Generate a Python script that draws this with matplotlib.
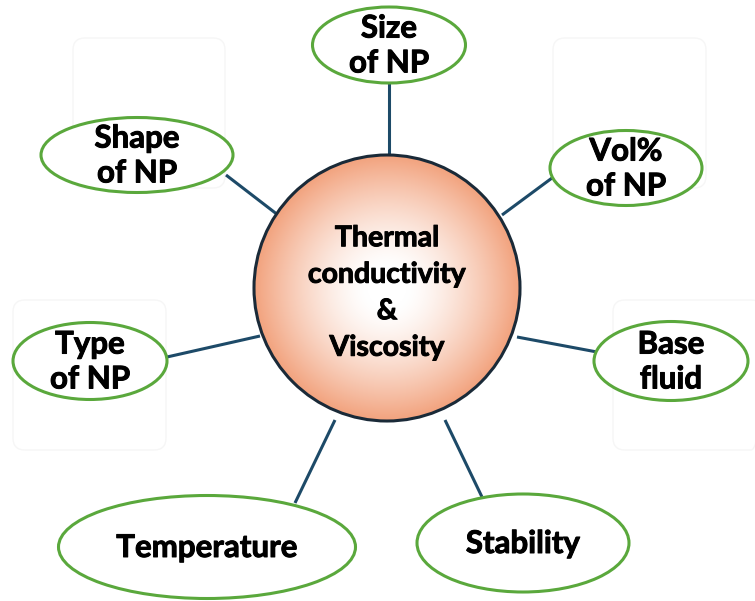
import numpy as np
import matplotlib
matplotlib.use("Agg")
import matplotlib.pyplot as plt
import matplotlib.patheffects as pe
from matplotlib.patches import Ellipse, Circle, FancyBboxPatch

# ---- data (text content) ----
center_label = "Thermal\nconductivity\n&\nViscosity"
factor_labels = ["Size\nof NP", "Shape\nof NP", "Vol%\nof NP", "Type\nof NP",
                 "Base\nfluid", "Temperature", "Stability"]

# ---- layout (pixel coordinates, origin top-left) ----
W, H = 755, 601
circ_c = (387, 288)
circ_r = 133
ell_centers = [(389, 45), (137, 155), (626, 168), (90, 361),
               (671, 361), (207, 547), (523, 543)]
ell_sizes = [(153, 76), (192, 75), (152, 75), (154, 77),
             (154, 79), (297, 103), (212, 98)]
line_ends = [((389, 83), (389, 155)),
             ((226, 175), (278, 215)),
             ((552, 178), (502, 215)),
             ((167, 357), (260, 336)),
             ((517, 337), (597, 352)),
             ((295, 503), (335, 420)),
             ((445, 420), (482, 497))]
bg_rects = [(73, 38, 152, 150), (553, 38, 153, 150),
            (13, 300, 153, 150), (613, 300, 150, 150)]

FONT = ["Lato", "DejaVu Sans"]
LINE_COL = "#1d4a68"
GREEN = "#5aa83c"
thick = [pe.withStroke(linewidth=0.7, foreground="black")]

fig = plt.figure(figsize=(W / 100, H / 100), dpi=100)
ax = fig.add_axes([0, 0, 1, 1])
ax.set_xlim(0, W)
ax.set_ylim(H, 0)
ax.axis("off")

# faint background rounded rectangles
for (x, y, w, h) in bg_rects:
    ax.add_patch(FancyBboxPatch((x + 12, y + 12), w - 24, h - 24,
                                boxstyle="round,pad=12", fc="none",
                                ec="#f6f6f6", lw=1.0, zorder=0))

# connectors
for (p0, p1) in line_ends:
    ax.plot([p0[0], p1[0]], [p0[1], p1[1]], color=LINE_COL, lw=2.2,
            solid_capstyle="butt", zorder=1)

# central circle with radial gradient
n = 400
xs = np.linspace(-1, 1, n)
X, Y = np.meshgrid(xs, xs)
R = np.clip(np.sqrt(X ** 2 + Y ** 2), 0, 1)
t = np.clip((R - 0.15) / 0.85, 0, 1) ** 1.4
inner = np.array([1.0, 1.0, 1.0])
outer = np.array([242, 162, 125]) / 255.0
img = inner[None, None, :] * (1 - t[..., None]) + outer[None, None, :] * t[..., None]
im = ax.imshow(img, extent=(circ_c[0] - circ_r, circ_c[0] + circ_r,
                            circ_c[1] + circ_r, circ_c[1] - circ_r),
               zorder=2, interpolation="bilinear")
clip = Circle(circ_c, circ_r, transform=ax.transData)
im.set_clip_path(clip)
ax.add_patch(Circle(circ_c, circ_r, fc="none", ec="#1a2a38", lw=2.2, zorder=3))
ax.text(circ_c[0], circ_c[1] + 5, center_label, ha="center", va="center",
        fontsize=20.5, fontweight="bold", family=FONT, linespacing=1.5,
        color="black", zorder=4, path_effects=thick)

# factor ellipses
for lab, c, (w, h) in zip(factor_labels, ell_centers, ell_sizes):
    ax.add_patch(Ellipse(c, w, h, fc="white", ec=GREEN, lw=2.2, zorder=3))
    ax.text(c[0], c[1] + 1, lab, ha="center", va="center", fontsize=22.5,
            fontweight="bold", family=FONT, linespacing=1.3,
            color="black", zorder=4, path_effects=thick)

fig.savefig("out.png", dpi=100)
